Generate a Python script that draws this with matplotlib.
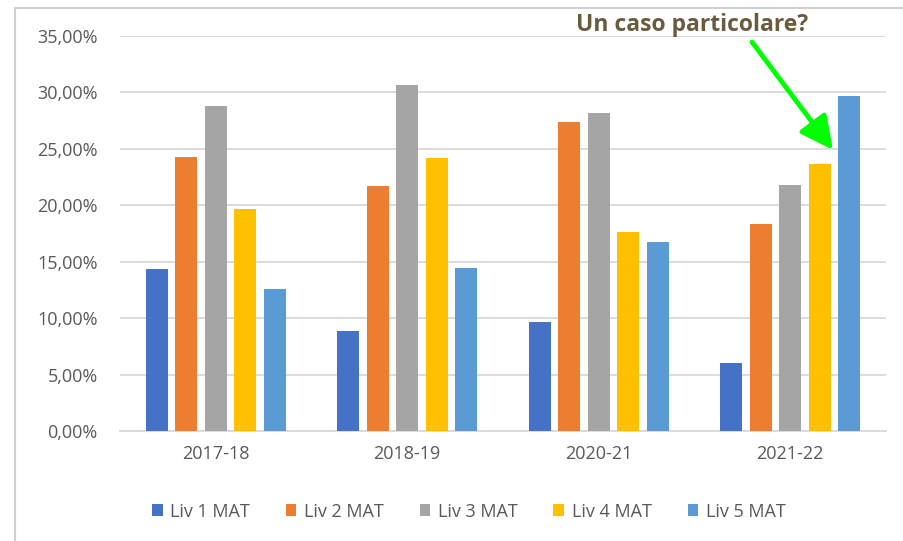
import matplotlib
matplotlib.use("Agg")
import matplotlib.pyplot as plt
from matplotlib.patches import Rectangle
from matplotlib.ticker import FuncFormatter
import numpy as np

plt.rcParams['font.family'] = ['Open Sans', 'DejaVu Sans']

categories = ["2017-18", "2018-19", "2020-21", "2021-22"]
series_names = ["Liv 1 MAT", "Liv 2 MAT", "Liv 3 MAT", "Liv 4 MAT", "Liv 5 MAT"]
liv1 = [14.35, 8.83, 9.65, 6.05]
liv2 = [24.27, 21.70, 27.34, 18.30]
liv3 = [28.76, 30.67, 28.20, 21.82]
liv4 = [19.69, 24.18, 17.66, 23.62]
liv5 = [12.55, 14.47, 16.71, 29.70]
yticks = [0, 5, 10, 15, 20, 25, 30, 35]
annotation = "Un caso particolare?"

colors = ["#4472C4", "#ED7D31", "#A5A5A5", "#FFC000", "#5B9BD5"]
series = [liv1, liv2, liv3, liv4, liv5]

fig = plt.figure(figsize=(9.04, 5.41), dpi=100)
ax = fig.add_axes([120/904, 1-431/541, (886-120)/904, (431-36)/541])

x = np.arange(len(categories))
pitch = 0.154
width = 0.117
for i, (vals, c, name) in enumerate(zip(series, colors, series_names)):
    ax.bar(x + (i-2)*pitch, vals, width=width, color=c, label=name, zorder=3)

ax.set_xlim(-0.5, 3.5)
ax.set_ylim(0, 35)
ax.set_yticks(yticks)
ax.yaxis.set_major_formatter(FuncFormatter(lambda v, p: f"{v:.2f}%".replace('.', ',')))
ax.set_xticks(x)
ax.set_xticklabels(categories)
ax.grid(axis='y', color='#D9D9D9', linewidth=1.3, zorder=0)
for s in ['top', 'right', 'left']:
    ax.spines[s].set_visible(False)
ax.spines['bottom'].set_color('#D9D9D9')
ax.spines['bottom'].set_linewidth(1.3)
ax.tick_params(axis='both', length=0, colors='#595959', labelsize=13)
ax.tick_params(axis='y', pad=16)
ax.tick_params(axis='x', pad=10)

leg = ax.legend(loc='upper center', bbox_to_anchor=(0.455, -0.14), ncol=5, frameon=False,
                handlelength=0.6, handleheight=0.6, handletextpad=0.4, columnspacing=2.0,
                fontsize=13)
for t in leg.get_texts():
    t.set_color('#595959')

# frame of the screenshot
fig.patches.append(Rectangle((15/904, -0.1), 1.2, 1.1 - 8/541, transform=fig.transFigure,
                             fill=False, edgecolor='#D0D0D0', linewidth=1.5, zorder=0))

fig.text(692/904, 1-25/541, annotation, ha='center', va='center', fontsize=16.5,
         fontweight='bold', color='#6B5B3E')
ax_fig = fig.add_axes([0, 0, 1, 1], facecolor='none')
ax_fig.set_xlim(0, 904)
ax_fig.set_ylim(541, 0)
ax_fig.axis('off')
ax_fig.annotate('', xy=(833, 150), xytext=(752, 42),
                arrowprops=dict(arrowstyle='-|>,head_length=2.0,head_width=1.0', color='#00FF00',
                                lw=3.5, shrinkA=0, shrinkB=0))

fig.savefig("out.png", dpi=100)
